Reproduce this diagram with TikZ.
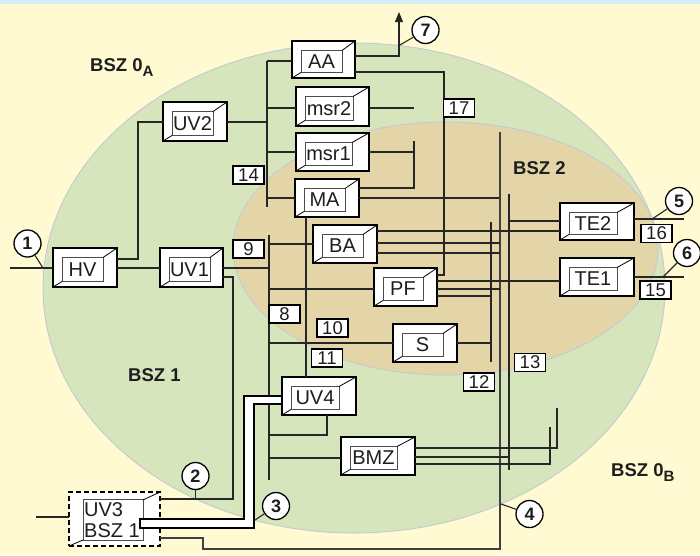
\documentclass[tikz,border=0pt]{standalone}
\usepackage{fontspec}
\setmainfont{Liberation Sans}
\usetikzlibrary{arrows.meta}
\definecolor{bgy}{RGB}{255,250,210}
\definecolor{bgb}{RGB}{213,238,247}
\definecolor{grn}{RGB}{215,229,188}
\definecolor{tanc}{RGB}{228,213,168}
\definecolor{ellc}{RGB}{198,203,210}
\definecolor{wirec}{RGB}{38,38,38}
\definecolor{txtc}{RGB}{30,30,30}
\newcommand\tdbox[8][]{%
  \pgfmathsetmacro\tcx{(#3+#5)/2}%
  \pgfmathsetmacro\tcy{(#4+#6)/2}%
  \pgfmathsetmacro\tww{#5-#3}%
  \pgfmathsetmacro\thh{#6-#4}%
  \node[obox,minimum width=\tww pt,minimum height=\thh pt,#1] (#2) at (\tcx,\tcy) {};
  \draw[ibox] (#3+9,#4+9.5) rectangle (#5-#7,#6-5.5);
  \draw[dline] (#5-#7,#4+9.5) -- (#5,#4) (#3+9,#6-5.5) -- (#3,#6);
  \node[btext] (#2-t) at ({(#3+9+#5-#7)/2},{(#4+4+#6)/2}) {#8};
}
\begin{document}
\begin{tikzpicture}[x=1pt,y=-1pt,
  obox/.style={draw=black,line width=1.2pt,fill=white,inner sep=0pt,outer sep=0pt},
  ibox/.style={draw=black!70,line width=0.9pt},
  dline/.style={draw=black,line width=0.8pt},
  btext/.style={inner sep=0pt,text=txtc,font=\fontsize{20}{21}\selectfont},
  wire/.style={draw=wirec,line width=1.1pt},
  twire/.style={draw=wirec,line width=1.8pt},
  nbox/.style={draw=black,fill=white,line width=1.1pt,minimum width=31pt,minimum height=18pt,inner sep=0pt,text=txtc,font=\fontsize{18.5}{18}\selectfont},
  circ/.style={circle,draw=black,line width=1.3pt,fill=white,minimum size=27pt,inner sep=0pt,text=txtc,font=\bfseries\fontsize{18}{18}\selectfont},
  bsz/.style={anchor=base west,inner sep=0pt,text=txtc,font=\bfseries\fontsize{18.5}{20}\selectfont},
  line join=miter]
\useasboundingbox (0,0) rectangle (700,555);
% background
\fill[bgy] (0,0) rectangle (700,555);
\fill[bgb] (0,0) rectangle (700,4);
\draw[ellc,line width=1pt,fill=grn] (354,288) ellipse [x radius=311, y radius=245];
\draw[ellc,line width=1pt,fill=tanc] (445.5,248.5) ellipse [x radius=212.5, y radius=126.5];
% zone labels
\node[bsz] (z0a) at (90,71) {BSZ 0\raisebox{-5pt}{\fontsize{15}{15}\selectfont A}};
\node[bsz] (z1) at (128,381) {BSZ 1};
\node[bsz] (z2) at (513,174) {BSZ 2};
\node[bsz] (z0b) at (611,476) {BSZ 0\raisebox{-5pt}{\fontsize{15}{15}\selectfont B}};
% boxes
\tdbox{AA}{292}{41}{355}{78}{13}{AA}
\tdbox{msr2}{296}{87}{369}{126}{16}{msr2}
\tdbox{msr1}{296}{133}{369}{171}{17}{msr1}
\tdbox[line width=2pt]{MA}{295}{179}{359}{217}{14}{MA}
\tdbox{BA}{313}{225}{377}{263}{14}{BA}
\tdbox{PF}{374}{268}{437}{306}{14}{PF}
\tdbox{S}{393}{324}{457}{362}{14}{S}
\tdbox{TE2}{560}{203}{634}{240}{17}{TE2}
\tdbox{TE1}{560}{258}{634}{296}{17}{TE1}
\tdbox{UV2}{163}{102}{227}{141}{14}{UV2}
\tdbox{HV}{53}{248}{117}{287}{14}{HV}
\tdbox{UV1}{160}{248}{223}{287}{13}{UV1}
\tdbox{UV4}{282}{377}{356}{415}{17}{UV4}
\tdbox{BMZ}{341}{437}{415}{475}{18}{BMZ}
% UV3 (dashed)
\node[obox,dash pattern=on 5pt off 3pt,line width=1.1pt,minimum width=91pt,minimum height=54pt] (UV3) at (114.5,519) {};
\draw[ibox] (83,499) rectangle (143,540);
\draw[dline] (143,500) -- (UV3.north east) (83,540) -- (UV3.south west);
\node[btext,align=left] (UV3-t) at (112,520) {UV3\\BSZ 1};
% circles
\node[circ] (c1) at (27.5,243.5) {1};
\node[circ] (c2) at (195.5,476) {2};
\node[circ] (c3) at (276,506) {3};
\node[circ] (c4) at (529.5,514) {4};
\node[circ] (c5) at (679,201) {5};
\node[circ] (c6) at (687,253) {6};
\node[circ] (c7) at (425.5,30) {7};
% ---- wires ----
\draw[twire] (10,268) -- (HV.west |- 0,268);
\draw[twire] (HV.east |- 0,268) -- (UV1.west |- 0,268);
\draw[wire] (HV.east |- 0,259) -| (138,122) -- (UV2.west |- 0,122);
\draw[wire] (c1) -- (43,268);
% UV2 bus
\draw[wire] (UV2.east |- 0,122) -- (267,122);
\draw[wire] (267,61) -- (267,207);
\draw[wire] (267,61) -- (AA.west |- 0,61);
\draw[wire] (267,108) -- (msr2.west |- 0,108);
\draw[wire] (267,152) -- (msr1.west |- 0,152);
\draw[wire] (267,198) -- (MA.west |- 0,198);
% AA
\draw[wire,-{Triangle[length=10pt,width=8pt]}] (AA.east |- 0,56) -| (399,12);
\draw[wire] (c7) -- (400,45);
\draw[wire] (AA.east |- 0,72) -| (444,275) -- (PF.east |- 0,275);
% msr2, msr1, MA
\draw[wire] (msr2.east |- 0,108) -- (414,108);
\draw[wire] (msr1.east |- 0,152) -- (414,152);
\draw[wire] (414,141) -- (414,188) -- (MA.east |- 0,188);
\draw[wire] (MA.east |- 0,198) -- (500,198);
\draw[twire] (MA.east |- 0,198) -- (407,198);
% main vertical to 4
\draw[draw=black!75,line width=1.7pt] (500,132) -- (500,549) -- (203,549) -- (203,538) -- (UV3.east |- 0,538);
\draw[wire] (c4) -- (501,504);
% verticals 491 and 509
\draw[wire] (491,222) -- (491,362);
\draw[wire] (509,194) -- (509,470);
% BA
\draw[wire] (BA.east |- 0,231) -- (TE2.west |- 0,231);
\draw[wire] (BA.east |- 0,243) -- (500,243);
\draw[wire] (BA.east |- 0,253) -- (500,253);
\draw[wire] (509,221) -- (TE2.west |- 0,221);
% PF
\draw[wire] (PF.east |- 0,281) -- (TE1.west |- 0,281);
\draw[wire] (PF.east |- 0,289) -- (500,289);
\draw[wire] (PF.east |- 0,296) -- (491,296);
% S
\draw[wire] (S.east |- 0,343) -- (491,343);
% TE outputs
\draw[wire] (TE2.east |- 0,219) -- (684,219);
\draw[wire] (c5) -- (652,219);
\draw[wire] (TE1.east |- 0,277) -- (684,277);
\draw[wire] (c6) -- (663,277);
% BMZ
\draw[wire] (BMZ.east |- 0,448) -| (557,408);
\draw[wire] (BMZ.east |- 0,457) -- (509,457);
\draw[wire] (BMZ.east |- 0,464) -| (550,427);
% UV1 bus
\draw[wire] (UV1.east |- 0,268) -- (269,268);
\draw[wire] (269,235) -- (269,480);
\draw[wire] (269,244) -- (BA.west |- 0,244);
\draw[wire] (269,289) -- (PF.west |- 0,289);
\draw[wire] (269,343) -- (S.west |- 0,343);
\draw[wire] (MA.south -| 306,0) -- (UV4.north -| 306,0);
\draw[wire] (269,435) -| (UV4.south -| 327,0);
\draw[wire] (269,458) -- (BMZ.west |- 0,458);
% UV1 to UV3 and circle 2
\draw[wire] (UV1.east |- 0,277) -- (233,277) -- (233,499) -- (UV3.east |- 0,499);
\draw[wire] (c2) -- (195.5,499);
% UV3 input
\draw[wire] (36,517) -- (UV3.west |- 0,517);
% pipe UV3 -> UV4
\draw[draw=black,line width=1.1pt,fill=white] (140,519) -- (244,519) -- (244,396) -- (UV4.west |- 0,396) -- (UV4.west |- 0,404) -- (254,404) -- (254,528) -- (140,528) -- cycle;
\draw[wire] (c3) -- (255,520);
% number labels
\node[nbox] (n14) at (248.5,175) {14};
\node[nbox] (n9) at (248.5,249) {9};
\node[nbox] (n8) at (284.5,314) {8};
\node[nbox] (n10) at (332.5,328) {10};
\node[nbox] (n11) at (327,358) {11};
\node[nbox] (n17) at (459,108) {17};
\node[nbox] (n16) at (656.5,233.5) {16};
\node[nbox] (n15) at (655.5,290) {15};
\node[nbox] (n13) at (530,362.5) {13};
\node[nbox] (n12) at (479,382) {12};
\end{tikzpicture}
\end{document}
